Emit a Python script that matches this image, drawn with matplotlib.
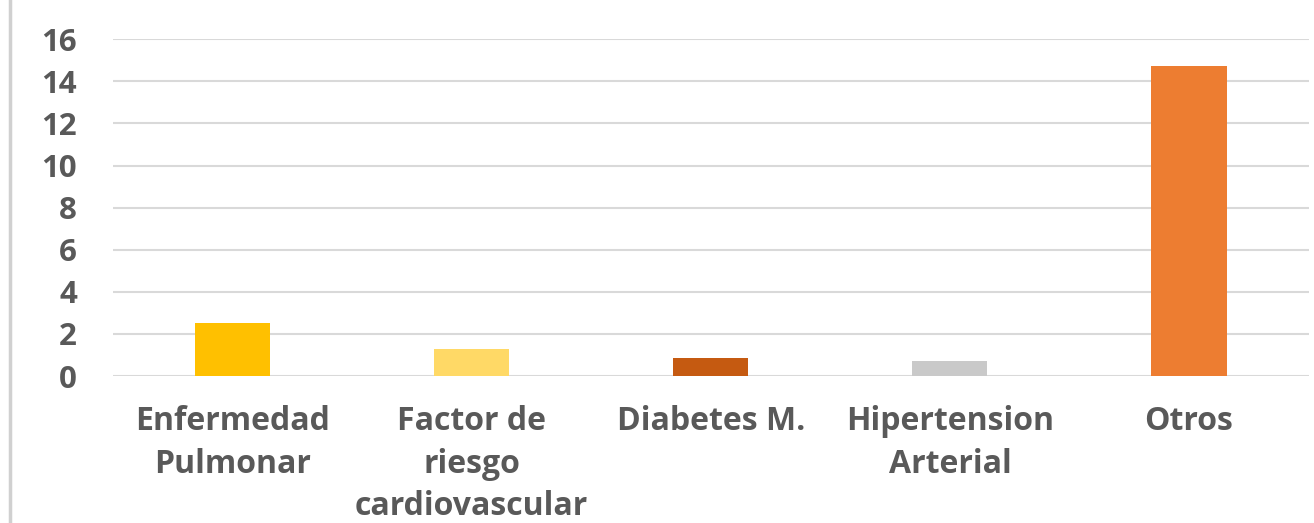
import matplotlib
matplotlib.use("Agg")
import matplotlib.pyplot as plt
import numpy as np

categories = ["Enfermedad\nPulmonar", "Factor de\nriesgo\ncardiovascular",
              "Diabetes M.", "Hipertension\nArterial", "Otros"]
values = [2.5, 1.27, 0.87, 0.73, 14.73]
bar_colors = ["#FFC000", "#FFD966", "#C55A11", "#C9C9C9", "#ED7D31"]
yticks = [0, 2, 4, 6, 8, 10, 12, 14, 16]

TEXT = "#595959"
GRID = "#D9D9D9"

plt.rcParams['font.family'] = ['Open Sans', 'DejaVu Sans']

fig = plt.figure(figsize=(13.14, 5.23), dpi=100)
ax = fig.add_axes([113 / 1314, 1 - 376 / 523, (1308.6 - 113) / 1314, (376 - 39.3) / 523])

x = np.arange(len(categories))
ax.bar(x, values, width=0.314, color=bar_colors, zorder=3)

ax.set_xlim(-0.5, len(categories) - 0.5)
ax.set_ylim(0, 16)
ax.set_yticks(yticks)
ax.set_yticklabels([str(t) for t in yticks], fontsize=22.5, fontweight='bold', color=TEXT)
ax.set_xticks(x)
ax.set_xticklabels(categories, fontsize=23, fontweight='bold', color=TEXT, linespacing=1.38)
ax.tick_params(axis='y', length=0, pad=26)
ax.tick_params(axis='x', length=0, pad=21)

ax.grid(axis='y', color=GRID, linewidth=1.5, zorder=0)
for s in ax.spines.values():
    s.set_visible(False)

# chart frame edge on the left
fig.add_artist(plt.Line2D([9.5 / 1314, 9.5 / 1314], [0, 1], color="#D0D0D0", linewidth=2.5,
                          transform=fig.transFigure))

fig.savefig("out.png", dpi=100)
